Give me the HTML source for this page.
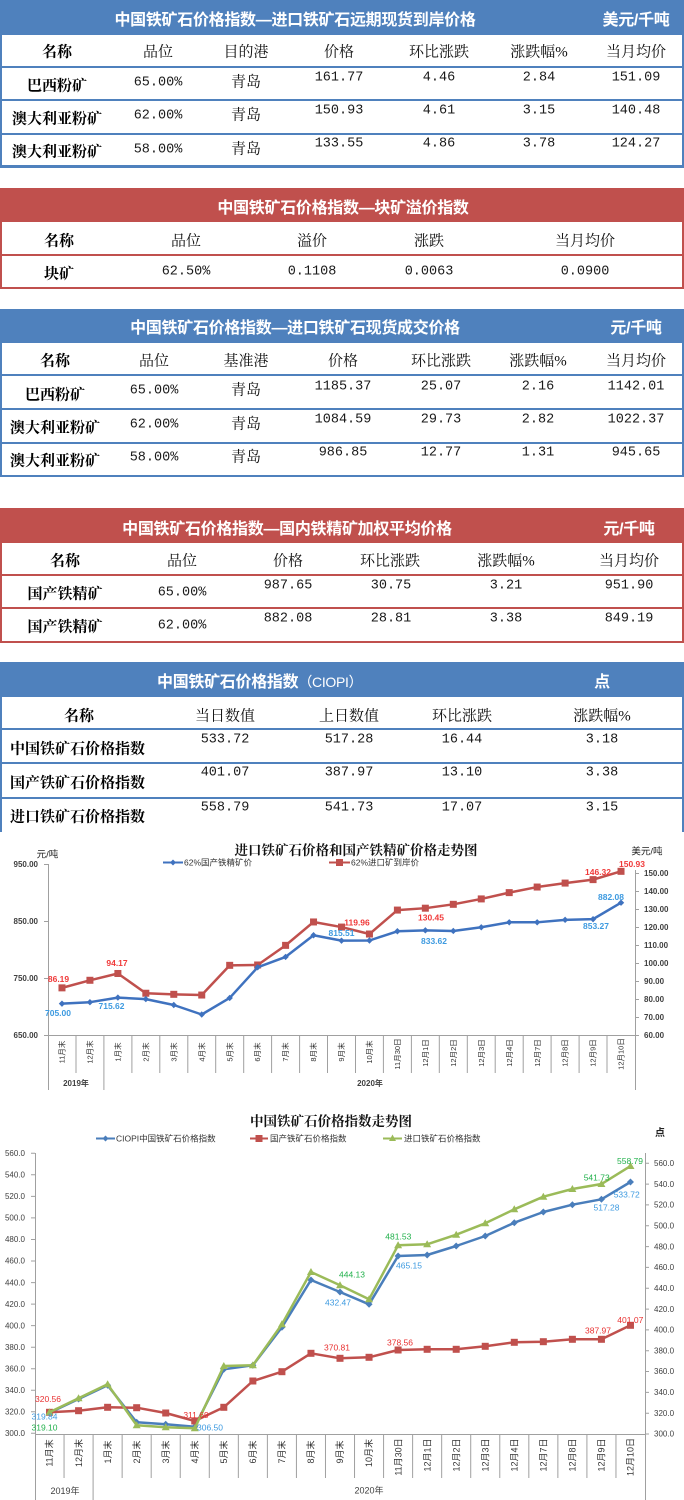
<!DOCTYPE html>
<html><head><meta charset="utf-8">
<style>
html,body{margin:0;padding:0;background:#fff;}
body{width:684px;height:1500px;position:relative;overflow:hidden;}
.a{position:absolute;}
.c{position:absolute;transform:translate(-50%,-50%);white-space:nowrap;line-height:1;}
.l{position:absolute;transform:translateY(-50%);white-space:nowrap;line-height:1;}
.h{font-family:"Liberation Sans","Noto Sans CJK SC",sans-serif;font-weight:bold;font-size:16px;color:#fff;letter-spacing:-0.3px;}
.k{font-family:"Liberation Serif","Noto Serif CJK SC",serif;font-size:15px;color:#111;}
.kb{font-family:"Liberation Serif","Noto Serif CJK SC",serif;font-size:15px;font-weight:bold;color:#000;}
.n{font-family:"Liberation Mono",monospace;font-size:13.5px;color:#1a1a1a;}
.bl{background:#4f81bd;}
.rd{background:#c0504d;}
</style></head><body>

<!-- TABLE 1 -->
<div class="a bl" style="left:0;top:0;width:684px;height:35px"></div>
<div class="a bl" style="left:0;top:35px;width:2px;height:133px"></div>
<div class="a bl" style="left:682px;top:35px;width:2px;height:133px"></div>
<div class="a bl" style="left:0;top:66px;width:684px;height:2px"></div>
<div class="a bl" style="left:0;top:99px;width:684px;height:2px"></div>
<div class="a bl" style="left:0;top:133px;width:684px;height:2px"></div>
<div class="a bl" style="left:0;top:165px;width:684px;height:3px"></div>
<span class="c h" style="left:295px;top:21px">中国铁矿石价格指数—进口铁矿石远期现货到岸价格</span>
<span class="c h" style="left:636px;top:21px">美元/千吨</span>
<span class="c kb" style="left:57px;top:53px">名称</span>
<span class="c k" style="left:158px;top:53px">品位</span>
<span class="c k" style="left:246px;top:53px">目的港</span>
<span class="c k" style="left:339px;top:53px">价格</span>
<span class="c k" style="left:439px;top:53px">环比涨跌</span>
<span class="c k" style="left:539px;top:53px">涨跌幅%</span>
<span class="c k" style="left:636px;top:53px">当月均价</span>

<span class="c kb" style="left:57px;top:87px">巴西粉矿</span>
<span class="c n" style="left:158px;top:83px">65.00%</span>
<span class="c k" style="left:246px;top:83px">青岛</span>
<span class="c n" style="left:339px;top:78px">161.77</span>
<span class="c n" style="left:439px;top:78px">4.46</span>
<span class="c n" style="left:539px;top:78px">2.84</span>
<span class="c n" style="left:636px;top:78px">151.09</span>

<span class="c kb" style="left:57px;top:120px">澳大利亚粉矿</span>
<span class="c n" style="left:158px;top:116px">62.00%</span>
<span class="c k" style="left:246px;top:116px">青岛</span>
<span class="c n" style="left:339px;top:111px">150.93</span>
<span class="c n" style="left:439px;top:111px">4.61</span>
<span class="c n" style="left:539px;top:111px">3.15</span>
<span class="c n" style="left:636px;top:111px">140.48</span>

<span class="c kb" style="left:57px;top:153px">澳大利亚粉矿</span>
<span class="c n" style="left:158px;top:150px">58.00%</span>
<span class="c k" style="left:246px;top:150px">青岛</span>
<span class="c n" style="left:339px;top:144px">133.55</span>
<span class="c n" style="left:439px;top:144px">4.86</span>
<span class="c n" style="left:539px;top:144px">3.78</span>
<span class="c n" style="left:636px;top:144px">124.27</span>

<!-- TABLE 2 -->
<div class="a rd" style="left:0;top:188px;width:684px;height:34px"></div>
<div class="a rd" style="left:0;top:222px;width:2px;height:67px"></div>
<div class="a rd" style="left:682px;top:222px;width:2px;height:67px"></div>
<div class="a rd" style="left:0;top:254px;width:684px;height:2px"></div>
<div class="a rd" style="left:0;top:287px;width:684px;height:2px"></div>
<span class="c h" style="left:343px;top:209px">中国铁矿石价格指数—块矿溢价指数</span>
<span class="c kb" style="left:59px;top:242px">名称</span>
<span class="c k" style="left:186px;top:242px">品位</span>
<span class="c k" style="left:312px;top:242px">溢价</span>
<span class="c k" style="left:429px;top:242px">涨跌</span>
<span class="c k" style="left:585px;top:242px">当月均价</span>
<span class="c kb" style="left:59px;top:275px">块矿</span>
<span class="c n" style="left:186px;top:272px">62.50%</span>
<span class="c n" style="left:312px;top:272px">0.1108</span>
<span class="c n" style="left:429px;top:272px">0.0063</span>
<span class="c n" style="left:585px;top:272px">0.0900</span>

<!-- TABLE 3 -->
<div class="a bl" style="left:0;top:309px;width:684px;height:34px"></div>
<div class="a bl" style="left:0;top:343px;width:2px;height:134px"></div>
<div class="a bl" style="left:682px;top:343px;width:2px;height:134px"></div>
<div class="a bl" style="left:0;top:374px;width:684px;height:2px"></div>
<div class="a bl" style="left:0;top:408px;width:684px;height:2px"></div>
<div class="a bl" style="left:0;top:442px;width:684px;height:2px"></div>
<div class="a bl" style="left:0;top:475px;width:684px;height:2px"></div>
<span class="c h" style="left:295px;top:329px">中国铁矿石价格指数—进口铁矿石现货成交价格</span>
<span class="c h" style="left:636px;top:329px">元/千吨</span>
<span class="c kb" style="left:55px;top:362px">名称</span>
<span class="c k" style="left:154px;top:362px">品位</span>
<span class="c k" style="left:246px;top:362px">基准港</span>
<span class="c k" style="left:343px;top:362px">价格</span>
<span class="c k" style="left:441px;top:362px">环比涨跌</span>
<span class="c k" style="left:538px;top:362px">涨跌幅%</span>
<span class="c k" style="left:636px;top:362px">当月均价</span>

<span class="c kb" style="left:55px;top:396px">巴西粉矿</span>
<span class="c n" style="left:154px;top:391px">65.00%</span>
<span class="c k" style="left:246px;top:391px">青岛</span>
<span class="c n" style="left:343px;top:387px">1185.37</span>
<span class="c n" style="left:441px;top:387px">25.07</span>
<span class="c n" style="left:538px;top:387px">2.16</span>
<span class="c n" style="left:636px;top:387px">1142.01</span>

<span class="c kb" style="left:55px;top:429px">澳大利亚粉矿</span>
<span class="c n" style="left:154px;top:425px">62.00%</span>
<span class="c k" style="left:246px;top:425px">青岛</span>
<span class="c n" style="left:343px;top:420px">1084.59</span>
<span class="c n" style="left:441px;top:420px">29.73</span>
<span class="c n" style="left:538px;top:420px">2.82</span>
<span class="c n" style="left:636px;top:420px">1022.37</span>

<span class="c kb" style="left:55px;top:462px">澳大利亚粉矿</span>
<span class="c n" style="left:154px;top:458px">58.00%</span>
<span class="c k" style="left:246px;top:458px">青岛</span>
<span class="c n" style="left:343px;top:453px">986.85</span>
<span class="c n" style="left:441px;top:453px">12.77</span>
<span class="c n" style="left:538px;top:453px">1.31</span>
<span class="c n" style="left:636px;top:453px">945.65</span>

<!-- TABLE 4 -->
<div class="a rd" style="left:0;top:508px;width:684px;height:35px"></div>
<div class="a rd" style="left:0;top:543px;width:2px;height:100px"></div>
<div class="a rd" style="left:682px;top:543px;width:2px;height:100px"></div>
<div class="a rd" style="left:0;top:574px;width:684px;height:2px"></div>
<div class="a rd" style="left:0;top:607px;width:684px;height:2px"></div>
<div class="a rd" style="left:0;top:641px;width:684px;height:2px"></div>
<span class="c h" style="left:287px;top:530px">中国铁矿石价格指数—国内铁精矿加权平均价格</span>
<span class="c h" style="left:629px;top:530px">元/千吨</span>
<span class="c kb" style="left:65px;top:562px">名称</span>
<span class="c k" style="left:182px;top:562px">品位</span>
<span class="c k" style="left:288px;top:562px">价格</span>
<span class="c k" style="left:390px;top:562px">环比涨跌</span>
<span class="c k" style="left:506px;top:562px">涨跌幅%</span>
<span class="c k" style="left:629px;top:562px">当月均价</span>

<span class="c kb" style="left:65px;top:595px">国产铁精矿</span>
<span class="c n" style="left:182px;top:593px">65.00%</span>
<span class="c n" style="left:288px;top:586px">987.65</span>
<span class="c n" style="left:391px;top:586px">30.75</span>
<span class="c n" style="left:506px;top:586px">3.21</span>
<span class="c n" style="left:629px;top:586px">951.90</span>

<span class="c kb" style="left:65px;top:628px">国产铁精矿</span>
<span class="c n" style="left:182px;top:626px">62.00%</span>
<span class="c n" style="left:288px;top:619px">882.08</span>
<span class="c n" style="left:391px;top:619px">28.81</span>
<span class="c n" style="left:506px;top:619px">3.38</span>
<span class="c n" style="left:629px;top:619px">849.19</span>

<!-- TABLE 5 -->
<div class="a bl" style="left:0;top:662px;width:684px;height:35px"></div>
<div class="a bl" style="left:0;top:697px;width:2px;height:135px"></div>
<div class="a bl" style="left:682px;top:697px;width:2px;height:135px"></div>
<div class="a bl" style="left:0;top:728px;width:684px;height:2px"></div>
<div class="a bl" style="left:0;top:762px;width:684px;height:2px"></div>
<div class="a bl" style="left:0;top:797px;width:684px;height:2px"></div>
<span class="l h" style="left:157px;top:683px">中国铁矿石价格指数<span style="font-weight:normal;font-size:14px">（CIOPI）</span></span>
<span class="c h" style="left:602px;top:683px">点</span>
<span class="c kb" style="left:79px;top:717px">名称</span>
<span class="c k" style="left:225px;top:717px">当日数值</span>
<span class="c k" style="left:349px;top:717px">上日数值</span>
<span class="c k" style="left:462px;top:717px">环比涨跌</span>
<span class="c k" style="left:602px;top:717px">涨跌幅%</span>

<span class="l kb" style="left:10px;top:750px">中国铁矿石价格指数</span>
<span class="c n" style="left:225px;top:740px">533.72</span>
<span class="c n" style="left:349px;top:740px">517.28</span>
<span class="c n" style="left:462px;top:740px">16.44</span>
<span class="c n" style="left:602px;top:740px">3.18</span>

<span class="l kb" style="left:10px;top:784px">国产铁矿石价格指数</span>
<span class="c n" style="left:225px;top:773px">401.07</span>
<span class="c n" style="left:349px;top:773px">387.97</span>
<span class="c n" style="left:462px;top:773px">13.10</span>
<span class="c n" style="left:602px;top:773px">3.38</span>

<span class="l kb" style="left:10px;top:818px">进口铁矿石价格指数</span>
<span class="c n" style="left:225px;top:808px">558.79</span>
<span class="c n" style="left:349px;top:808px">541.73</span>
<span class="c n" style="left:462px;top:808px">17.07</span>
<span class="c n" style="left:602px;top:808px">3.15</span>

<!-- CHARTS -->
<svg class="a" style="left:0;top:0" width="684" height="1500" viewBox="0 0 684 1500" xmlns="http://www.w3.org/2000/svg">
<defs>
<marker id="d1" markerWidth="8" markerHeight="8" refX="4" refY="4" markerUnits="userSpaceOnUse"><path d="M4 0.8L7.2 4L4 7.2L0.8 4Z" fill="#3f72bf"/></marker>
<marker id="s1" markerWidth="8" markerHeight="8" refX="4" refY="4" markerUnits="userSpaceOnUse"><rect x="0.5" y="0.5" width="7" height="7" fill="#c0504d"/></marker>
<marker id="d2" markerWidth="8" markerHeight="8" refX="4" refY="4" markerUnits="userSpaceOnUse"><path d="M4 0.5L7.5 4L4 7.5L0.5 4Z" fill="#4a7ebb"/></marker>
<marker id="s2" markerWidth="8" markerHeight="8" refX="4" refY="4" markerUnits="userSpaceOnUse"><rect x="0.5" y="0.5" width="7" height="7" fill="#c0504d"/></marker>
<marker id="t2" markerWidth="9" markerHeight="9" refX="4.5" refY="5" markerUnits="userSpaceOnUse"><path d="M4.5 1L8.5 8H0.5Z" fill="#9bbb59"/></marker>
</defs>

<!-- ===== Chart 1 ===== -->
<g stroke="#a0a0a0" stroke-width="1" fill="none">
<line x1="48.5" y1="864" x2="48.5" y2="1090"/>
<line x1="635.5" y1="870" x2="635.5" y2="1090"/>
<line x1="48" y1="1035.5" x2="636" y2="1035.5"/>
<path d="M44 864.5H48M44 921.5H48M44 978.5H48M44 1035.5H48"/>
<path d="M635 873.5H639M635 891.5H639M635 909.5H639M635 927.5H639M635 945.5H639M635 963.5H639M635 981.5H639M635 999.5H639M635 1017.5H639M635 1035.5H639"/>
<path d="M76 1035V1073M103.9 1035V1090M131.9 1035V1073M159.8 1035V1073M187.8 1035V1073M215.7 1035V1073M243.7 1035V1073M271.6 1035V1073M299.6 1035V1073M327.5 1035V1073M355.5 1035V1073M383.4 1035V1073M411.4 1035V1073M439.3 1035V1073M467.3 1035V1073M495.2 1035V1073M523.2 1035V1073M551.1 1035V1073M579.1 1035V1073M607 1035V1073"/>
</g>
<g font-family="Liberation Sans, Noto Sans CJK SC, sans-serif" font-size="8" font-weight="bold" fill="#404040">
<text x="38" y="867" text-anchor="end">950.00</text>
<text x="38" y="924" text-anchor="end">850.00</text>
<text x="38" y="981" text-anchor="end">750.00</text>
<text x="38" y="1038" text-anchor="end">650.00</text>
<text x="644" y="876">150.00</text>
<text x="644" y="894">140.00</text>
<text x="644" y="912">130.00</text>
<text x="644" y="930">120.00</text>
<text x="644" y="948">110.00</text>
<text x="644" y="966">100.00</text>
<text x="644" y="984">90.00</text>
<text x="644" y="1002">80.00</text>
<text x="644" y="1020">70.00</text>
<text x="644" y="1038">60.00</text>
<text x="76" y="1086" text-anchor="middle">2019年</text>
<text x="370" y="1086" text-anchor="middle">2020年</text>
</g>
<g font-family="Liberation Sans, Noto Sans CJK SC, sans-serif" font-size="9.5" fill="#222">
<text x="47.5" y="857.5" text-anchor="middle">元/吨</text>
<text x="647" y="854.5" text-anchor="middle">美元/吨</text>
</g>
<text x="356" y="855" text-anchor="middle" font-family="Liberation Serif, Noto Serif CJK SC, serif" font-size="13.5" font-weight="bold" fill="#111">进口铁矿石价格和国产铁精矿价格走势图</text>
<!-- legend 1 -->
<line x1="163" y1="862.5" x2="183" y2="862.5" stroke="#3f72bf" stroke-width="2"/>
<path d="M173 859.5L176 862.5L173 865.5L170 862.5Z" fill="#3f72bf"/>
<text x="184" y="865.5" font-family="Liberation Sans, Noto Sans CJK SC, sans-serif" font-size="8.5" fill="#333">62%国产铁精矿价</text>
<line x1="329" y1="862.5" x2="350" y2="862.5" stroke="#c0504d" stroke-width="2"/>
<rect x="336" y="859" width="7" height="7" fill="#c0504d"/>
<text x="351" y="865.5" font-family="Liberation Sans, Noto Sans CJK SC, sans-serif" font-size="8.5" fill="#333">62%进口矿到岸价</text>
<!-- x labels chart 1 -->
<g font-family="Liberation Sans, Noto Sans CJK SC, sans-serif" font-size="7.5" fill="#333" text-anchor="middle">
<text transform="translate(62,1052) rotate(-90)" dy="0.35em">11月末</text>
<text transform="translate(89.9,1052) rotate(-90)" dy="0.35em">12月末</text>
<text transform="translate(117.9,1052) rotate(-90)" dy="0.35em">1月末</text>
<text transform="translate(145.8,1052) rotate(-90)" dy="0.35em">2月末</text>
<text transform="translate(173.8,1052) rotate(-90)" dy="0.35em">3月末</text>
<text transform="translate(201.7,1052) rotate(-90)" dy="0.35em">4月末</text>
<text transform="translate(229.7,1052) rotate(-90)" dy="0.35em">5月末</text>
<text transform="translate(257.6,1052) rotate(-90)" dy="0.35em">6月末</text>
<text transform="translate(285.6,1052) rotate(-90)" dy="0.35em">7月末</text>
<text transform="translate(313.5,1052) rotate(-90)" dy="0.35em">8月末</text>
<text transform="translate(341.5,1052) rotate(-90)" dy="0.35em">9月末</text>
<text transform="translate(369.4,1052) rotate(-90)" dy="0.35em">10月末</text>
<text transform="translate(397.4,1054) rotate(-90)" dy="0.35em">11月30日</text>
<text transform="translate(425.4,1053) rotate(-90)" dy="0.35em">12月1日</text>
<text transform="translate(453.3,1053) rotate(-90)" dy="0.35em">12月2日</text>
<text transform="translate(481.3,1053) rotate(-90)" dy="0.35em">12月3日</text>
<text transform="translate(509.2,1053) rotate(-90)" dy="0.35em">12月4日</text>
<text transform="translate(537.2,1053) rotate(-90)" dy="0.35em">12月7日</text>
<text transform="translate(565.1,1053) rotate(-90)" dy="0.35em">12月8日</text>
<text transform="translate(593.1,1053) rotate(-90)" dy="0.35em">12月9日</text>
<text transform="translate(621,1054) rotate(-90)" dy="0.35em">12月10日</text>
</g>
<!-- series chart 1 -->
<polyline fill="none" stroke="#c0504d" stroke-width="2.5" stroke-linejoin="round" marker-start="url(#s1)" marker-mid="url(#s1)" marker-end="url(#s1)" points="61.98,987.86 89.93,980.28 117.88,973.49 145.83,993.24 173.78,994.32 201.74,995.04 229.69,965.34 257.64,964.98 285.59,945.36 313.54,921.96 341.50,927.07 369.45,934.02 397.40,910.08 425.35,908.19 453.30,904.32 481.26,898.92 509.21,892.62 537.16,887.04 565.11,883.08 593.06,879.62 621.02,871.33"/>
<polyline fill="none" stroke="#3f72bf" stroke-width="2.5" stroke-linejoin="round" marker-start="url(#d1)" marker-mid="url(#d1)" marker-end="url(#d1)" points="61.98,1003.65 89.93,1002.2 117.88,997.6 145.83,999.1 173.78,1005.0 201.74,1014.5 229.69,997.95 257.64,967.3 285.59,956.9 313.54,935.25 341.50,940.66 369.45,940.5 397.40,931.26 425.35,930.34 453.30,930.97 481.26,927.27 509.21,922.31 537.16,922.31 565.11,919.86 593.06,919.14 621.02,902.71"/>
<g font-family="Liberation Sans, sans-serif" font-size="8.5" text-anchor="middle" font-weight="bold">
<g fill="#3d9ae0">
<text x="58" y="1016">705.00</text>
<text x="111.5" y="1009">715.62</text>
<text x="341.5" y="936">815.51</text>
<text x="434" y="944">833.62</text>
<text x="596" y="929">853.27</text>
<text x="611" y="900">882.08</text>
</g>
<g fill="#f03a3a">
<text x="58.5" y="982">86.19</text>
<text x="117" y="966">94.17</text>
<text x="357" y="925.5">119.96</text>
<text x="431" y="920.5">130.45</text>
<text x="598" y="875">146.32</text>
<text x="632" y="867">150.93</text>
</g>
</g>

<!-- ===== Chart 2 ===== -->
<g stroke="#a0a0a0" stroke-width="1" fill="none">
<line x1="35.5" y1="1153" x2="35.5" y2="1500"/>
<line x1="645.5" y1="1153" x2="645.5" y2="1500"/>
<line x1="35" y1="1434.5" x2="646" y2="1434.5"/>
<path d="M31 1153.3H35M31 1174.8H35M31 1196.4H35M31 1217.9H35M31 1239.5H35M31 1261H35M31 1282.6H35M31 1304.1H35M31 1325.6H35M31 1347.2H35M31 1368.7H35M31 1390.2H35M31 1411.8H35M31 1433.3H35"/>
<path d="M645 1163.3H649M645 1184.1H649M645 1204.9H649M645 1225.8H649M645 1246.6H649M645 1267.4H649M645 1288.2H649M645 1309.1H649M645 1329.9H649M645 1350.7H649M645 1371.5H649M645 1392.4H649M645 1413.2H649M645 1434H649"/>
<path d="M64.05 1434V1478M93.1 1434V1500M122.14 1434V1478M151.19 1434V1478M180.24 1434V1478M209.29 1434V1478M238.34 1434V1478M267.38 1434V1478M296.43 1434V1478M325.48 1434V1478M354.53 1434V1478M383.58 1434V1478M412.62 1434V1478M441.67 1434V1478M470.72 1434V1478M499.77 1434V1478M528.82 1434V1478M557.86 1434V1478M586.91 1434V1478M615.96 1434V1478"/>
</g>
<g font-family="Liberation Sans, Noto Sans CJK SC, sans-serif" font-size="8" fill="#404040">
<text x="25" y="1156" text-anchor="end">560.0</text>
<text x="25" y="1177.5" text-anchor="end">540.0</text>
<text x="25" y="1199" text-anchor="end">520.0</text>
<text x="25" y="1220.5" text-anchor="end">500.0</text>
<text x="25" y="1242" text-anchor="end">480.0</text>
<text x="25" y="1263.7" text-anchor="end">460.0</text>
<text x="25" y="1285.3" text-anchor="end">440.0</text>
<text x="25" y="1306.8" text-anchor="end">420.0</text>
<text x="25" y="1328.3" text-anchor="end">400.0</text>
<text x="25" y="1349.9" text-anchor="end">380.0</text>
<text x="25" y="1371.4" text-anchor="end">360.0</text>
<text x="25" y="1392.9" text-anchor="end">340.0</text>
<text x="25" y="1414.5" text-anchor="end">320.0</text>
<text x="25" y="1436" text-anchor="end">300.0</text>
<text x="654" y="1166">560.0</text>
<text x="654" y="1186.8">540.0</text>
<text x="654" y="1207.6">520.0</text>
<text x="654" y="1228.5">500.0</text>
<text x="654" y="1249.3">480.0</text>
<text x="654" y="1270.1">460.0</text>
<text x="654" y="1290.9">440.0</text>
<text x="654" y="1311.8">420.0</text>
<text x="654" y="1332.6">400.0</text>
<text x="654" y="1353.4">380.0</text>
<text x="654" y="1374.2">360.0</text>
<text x="654" y="1395.1">340.0</text>
<text x="654" y="1415.9">320.0</text>
<text x="654" y="1436.7">300.0</text>
<text x="65" y="1494" text-anchor="middle" font-size="9">2019年</text>
<text x="369" y="1493.5" text-anchor="middle" font-size="9">2020年</text>
</g>
<text x="331" y="1126" text-anchor="middle" font-family="Liberation Serif, Noto Serif CJK SC, serif" font-size="13.5" font-weight="bold" fill="#111">中国铁矿石价格指数走势图</text>
<text x="660" y="1136" text-anchor="middle" font-family="Liberation Sans, Noto Sans CJK SC, sans-serif" font-size="10" font-weight="bold" fill="#222">点</text>
<!-- legend 2 -->
<g font-family="Liberation Sans, Noto Sans CJK SC, sans-serif" font-size="8.5" fill="#333">
<line x1="96" y1="1138.5" x2="115" y2="1138.5" stroke="#4a7ebb" stroke-width="2"/>
<path d="M105.5 1135.5L108.5 1138.5L105.5 1141.5L102.5 1138.5Z" fill="#4a7ebb"/>
<text x="116" y="1141.5">CIOPI中国铁矿石价格指数</text>
<line x1="250" y1="1138.5" x2="268" y2="1138.5" stroke="#c0504d" stroke-width="2"/>
<rect x="255.5" y="1135" width="7" height="7" fill="#c0504d"/>
<text x="270" y="1141.5">国产铁矿石价格指数</text>
<line x1="383" y1="1138.5" x2="402" y2="1138.5" stroke="#9bbb59" stroke-width="2"/>
<path d="M392.5 1134.5L396 1141H389Z" fill="#9bbb59"/>
<text x="404" y="1141.5">进口铁矿石价格指数</text>
</g>
<!-- x labels chart 2 -->
<g font-family="Liberation Sans, Noto Sans CJK SC, sans-serif" font-size="9" fill="#333" text-anchor="middle">
<text transform="translate(49.5,1453) rotate(-90)" dy="0.35em">11月末</text>
<text transform="translate(78.6,1453) rotate(-90)" dy="0.35em">12月末</text>
<text transform="translate(107.6,1452) rotate(-90)" dy="0.35em">1月末</text>
<text transform="translate(136.7,1452) rotate(-90)" dy="0.35em">2月末</text>
<text transform="translate(165.7,1452) rotate(-90)" dy="0.35em">3月末</text>
<text transform="translate(194.8,1452) rotate(-90)" dy="0.35em">4月末</text>
<text transform="translate(223.8,1452) rotate(-90)" dy="0.35em">5月末</text>
<text transform="translate(252.9,1452) rotate(-90)" dy="0.35em">6月末</text>
<text transform="translate(281.9,1452) rotate(-90)" dy="0.35em">7月末</text>
<text transform="translate(311,1452) rotate(-90)" dy="0.35em">8月末</text>
<text transform="translate(340,1452) rotate(-90)" dy="0.35em">9月末</text>
<text transform="translate(369,1453) rotate(-90)" dy="0.35em">10月末</text>
<text transform="translate(398.1,1457) rotate(-90)" dy="0.35em">11月30日</text>
<text transform="translate(427.2,1455) rotate(-90)" dy="0.35em">12月1日</text>
<text transform="translate(456.2,1455) rotate(-90)" dy="0.35em">12月2日</text>
<text transform="translate(485.2,1455) rotate(-90)" dy="0.35em">12月3日</text>
<text transform="translate(514.3,1455) rotate(-90)" dy="0.35em">12月4日</text>
<text transform="translate(543.3,1455) rotate(-90)" dy="0.35em">12月7日</text>
<text transform="translate(572.4,1455) rotate(-90)" dy="0.35em">12月8日</text>
<text transform="translate(601.4,1455) rotate(-90)" dy="0.35em">12月9日</text>
<text transform="translate(630.5,1457) rotate(-90)" dy="0.35em">12月10日</text>
</g>
<!-- series chart 2 -->
<polyline fill="none" stroke="#4a7ebb" stroke-width="2.5" stroke-linejoin="round" marker-start="url(#d2)" marker-mid="url(#d2)" marker-end="url(#d2)" points="49.52,1412.7 78.57,1399 107.62,1385.3 136.67,1422.3 165.72,1424.3 194.76,1426.7 223.81,1369.3 252.86,1365.3 281.91,1327.3 310.96,1280 340,1292 369.05,1304.3 398.1,1256 427.15,1255 456.2,1246 485.24,1236 514.29,1222.7 543.34,1212 572.39,1204.7 601.44,1199.3 630.48,1182"/>
<polyline fill="none" stroke="#c0504d" stroke-width="2.5" stroke-linejoin="round" marker-start="url(#s2)" marker-mid="url(#s2)" marker-end="url(#s2)" points="49.52,1412.3 78.57,1410.7 107.62,1407.3 136.67,1407.7 165.72,1413 194.76,1421 223.81,1407.3 252.86,1381 281.91,1371.7 310.96,1353.3 340,1358.3 369.05,1357.3 398.1,1350 427.15,1349.3 456.2,1349.3 485.24,1346.3 514.29,1342.3 543.34,1341.7 572.39,1339.3 601.44,1339.3 630.48,1325.3"/>
<polyline fill="none" stroke="#9bbb59" stroke-width="2.5" stroke-linejoin="round" marker-start="url(#t2)" marker-mid="url(#t2)" marker-end="url(#t2)" points="49.52,1412.3 78.57,1398.3 107.62,1384.3 136.67,1425.3 165.72,1427.3 194.76,1428.3 223.81,1366 252.86,1365.3 281.91,1324.3 310.96,1272 340,1285.3 369.05,1299.3 398.1,1245.3 427.15,1244.3 456.2,1234.7 485.24,1223.3 514.29,1209.3 543.34,1196.7 572.39,1189 601.44,1184 630.48,1166"/>
<g font-family="Liberation Sans, sans-serif" font-size="8.5" text-anchor="middle">
<g fill="#e83030">
<text x="48" y="1402">320.56</text>
<text x="196" y="1418">311.69</text>
<text x="337" y="1350.7">370.81</text>
<text x="400" y="1345.3">378.56</text>
<text x="598" y="1333.7">387.97</text>
<text x="630.3" y="1323">401.07</text>
</g>
<g fill="#3d9ae0">
<text x="44.5" y="1419.7">319.84</text>
<text x="210" y="1430.3">306.50</text>
<text x="338" y="1305.3">432.47</text>
<text x="409" y="1268.7">465.15</text>
<text x="606.5" y="1210.7">517.28</text>
<text x="626.7" y="1197.3">533.72</text>
</g>
<g fill="#22b14c">
<text x="44.5" y="1430.7">319.10</text>
<text x="352" y="1277.3">444.13</text>
<text x="398.3" y="1239.7">481.53</text>
<text x="596.7" y="1180.3">541.73</text>
<text x="630" y="1164">558.79</text>
</g>
</g>
</svg>
</body></html>
